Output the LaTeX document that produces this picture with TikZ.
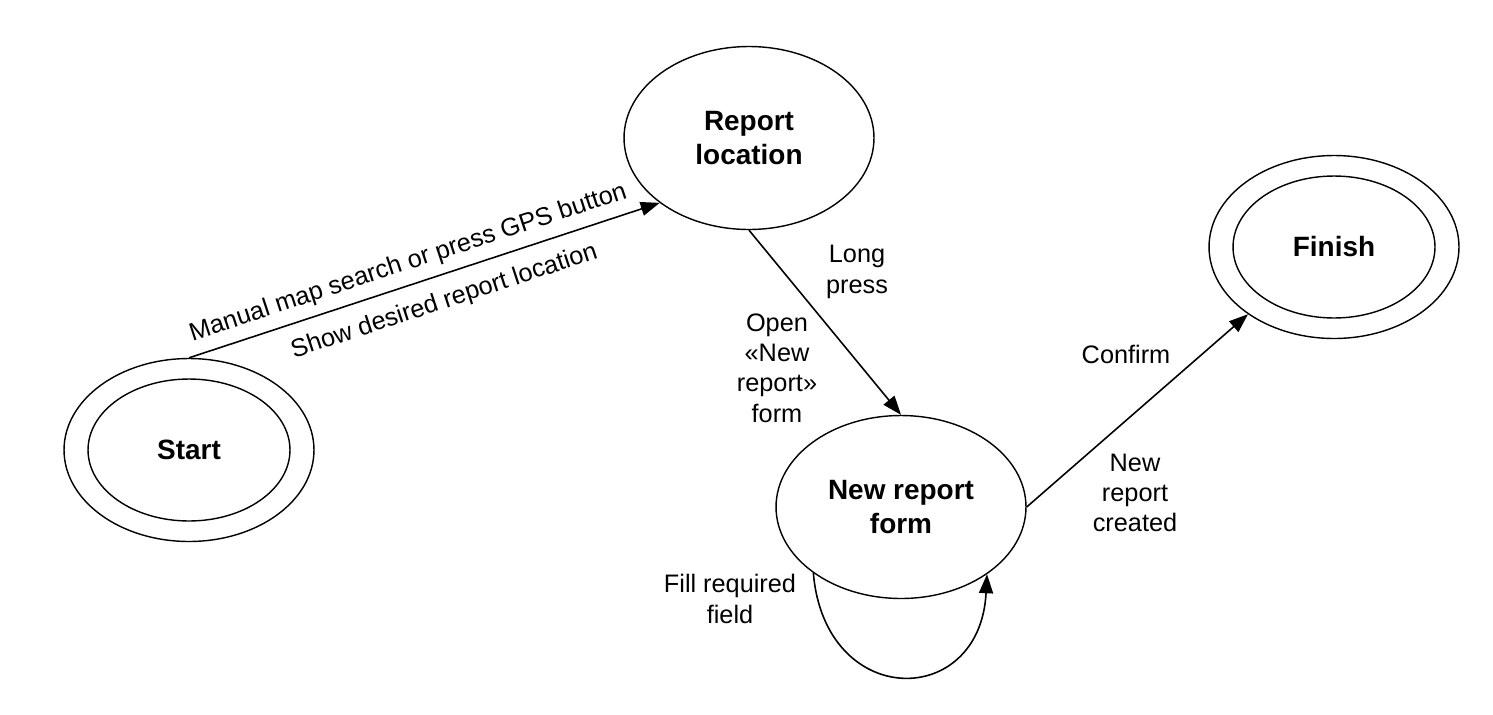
\documentclass[tikz,border=0pt]{standalone}
\usepackage{fontspec}
\setmainfont{Liberation Sans}
\usetikzlibrary{shapes.geometric,arrows.meta}

\begin{document}
\begin{tikzpicture}[x=0.02cm,y=-0.02cm,
    stateb/.style={ellipse,draw,line width=0.8pt,minimum width=5cm,minimum height=3.66cm,inner sep=0pt,align=center,font=\fontsize{15.9}{19.3}\selectfont\bfseries},
    ring/.style={ellipse,draw,line width=0.8pt,minimum width=4.04cm,minimum height=2.84cm,inner sep=0pt,font=\fontsize{15.9}{19.3}\selectfont\bfseries},
    lbl/.style={align=center,inner sep=0pt,font=\fontsize{14.4}{17.3}\selectfont},
    edge/.style={line width=0.9pt,-{Triangle[length=0.38cm,width=0.28cm]}}]
    \useasboundingbox (0,0) rectangle (1493,714);

    %Nodes
    \node[stateb] at (189,450) (start) {};
    \node[ring]   at (189,450) (startin) {Start};
    \node[stateb] at (749,138) (rloc) {Report\\location};
    \node[stateb] at (901,507) (nrf) {New report\\form};
    \node[stateb] at (1334,247) (fin) {};
    \node[ring]   at (1334,247) (finin) {Finish};
    \node[lbl] at (857,272) (longp) {Long\\press};
    \node[lbl] at (777,368) (openf) {Open\\«New\\report»\\form};
    \node[lbl] at (1126,354) (conf) {Confirm};
    \node[lbl] at (1135,493) (created) {New\\report\\created};
    \node[lbl] at (730,599) (fill) {Fill required\\field};

    %Lines
    \draw[edge] (start.north) -- node[lbl,sloped,above=5pt,pos=0.48] (manual) {Manual map search or press GPS button}
        node[lbl,sloped,below=8pt,pos=0.525] (show) {Show desired report location} (rloc.216);
    \draw[edge] (rloc.south) -- (nrf.north);
    \draw[edge] (nrf.east) -- (fin.218);
    \draw[edge] (nrf.217) .. controls (825,710) and (980,710) .. (nrf.322);
\end{tikzpicture}
\end{document}
